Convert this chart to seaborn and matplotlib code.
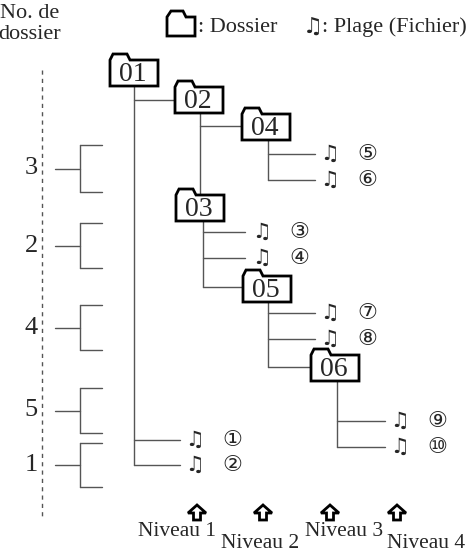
import matplotlib
matplotlib.use("Agg")
import matplotlib.pyplot as plt
import seaborn as sns
from matplotlib.patches import Polygon, FancyArrow

sns.set_theme(style="white")
plt.rcParams['font.family'] = ['Liberation Serif', 'DejaVu Sans', 'Noto Sans CJK JP']

# data
folder_labels = ["01", "02", "04", "03", "05", "06"]
folder_counts = ["3", "2", "4", "5", "1"]
track_labels = ["⑤", "⑥", "③", "④", "⑦", "⑧", "⑨", "⑩", "①", "②"]
level_labels = ["Niveau 1", "Niveau 2", "Niveau 3", "Niveau 4"]

W, H = 467, 551
fig = plt.figure(figsize=(W/100, H/100), dpi=100)
ax = fig.add_axes([0, 0, 1, 1])
ax.set_xlim(0, W); ax.set_ylim(H, 0); ax.axis('off')
LW = 1.0; GC = '#555555'

def folder(x, y, label, w=48, h=25):
    pts = [(x, y+h), (x, y-1), (x+3, y-7), (x+17, y-7), (x+20, y-1), (x+w, y-1), (x+w, y+h)]
    ax.add_patch(Polygon(pts, closed=True, fill=True, fc='white', ec='black', lw=2, zorder=3))
    ax.text(x+w/2-1, y+h/2+1, label, ha='center', va='center', fontsize=20, zorder=4)

def line(xs, ys):
    ax.plot(xs, ys, color=GC, lw=LW, zorder=1)

def track(x, y, lab):
    ax.text(x, y, "♫", ha='center', va='center', fontsize=15, fontweight='bold',
            family=['DejaVu Sans'])
    ax.text(x+37, y, lab, ha='center', va='center', fontsize=16, family=['DejaVu Sans', 'Noto Sans CJK JP'])

# tree lines
line([134, 134], [85, 465]); line([134, 175], [100, 100])
line([200, 200], [113, 205]); line([200, 242], [126, 126])
line([268, 268], [139, 180]); line([268, 315], [154, 154]); line([268, 315], [180, 180])
line([203, 203], [220, 287]); line([203, 245], [232, 232]); line([203, 245], [258, 258]); line([203, 245], [287, 287])
line([268, 268], [300, 367]); line([268, 315], [313, 313]); line([268, 315], [339, 339]); line([268, 315], [367, 367])
line([337, 337], [380, 447]); line([337, 385], [421, 421]); line([337, 385], [447, 447])
line([134, 180], [440, 440]); line([134, 180], [465, 465])

pos = [(110, 61), (175, 88), (242, 115), (176, 196), (243, 277), (311, 356)]
for (x, y), lab in zip(pos, folder_labels):
    folder(x, y, lab)

tpos = [(330, 154), (330, 180), (262, 232), (262, 258), (330, 313), (330, 339), (400, 421), (400, 447), (195, 440), (195, 465)]
for (x, y), lab in zip(tpos, track_labels):
    track(x, y, lab)

# left scale
ax.text(30, 24, "No. de\ndossier", ha='center', va='center', fontsize=16, linespacing=1.15)
ax.plot([42, 42], [70, 520], color=GC, lw=1, ls=(0, (3, 3)))
bpos = [(145, 192), (223, 268), (305, 350), (388, 433), (443, 487)]
for (y0, y1), lab in zip(bpos, folder_counts):
    ym = (y0+y1)/2
    ax.text(38, ym, lab, ha='right', va='center', fontsize=19, bbox=dict(fc='white', ec='none', pad=1))
    ax.plot([55, 80], [ym, ym], color=GC, lw=LW)
    ax.plot([80, 80], [y0, y1], color=GC, lw=LW)
    ax.plot([80, 102], [y0, y0], color=GC, lw=LW)
    ax.plot([80, 102], [y1, y1], color=GC, lw=LW)

# legend
ax.add_patch(Polygon([(167, 36), (167, 17), (171, 11), (183, 11), (186, 17), (195, 17), (195, 36)],
                     closed=True, fill=False, ec='black', lw=2))
ax.text(198, 27, ": Dossier", ha='left', va='center', fontsize=16)
ax.text(313, 27, "♫", ha='center', va='center', fontsize=16, fontweight='bold', family=['DejaVu Sans'])
ax.text(322, 27, ": Plage (Fichier)", ha='left', va='center', fontsize=16)

# levels
apos = [197, 263, 330, 397]
lpos = [(177, 532), (260, 543), (344, 532), (426, 543)]
for ax_x in apos:
    ax.add_patch(FancyArrow(ax_x, 520, 0, -15, width=7, head_width=18, head_length=8,
                            length_includes_head=True, fc='white', ec='black', lw=2))
for (x, y), lab in zip(lpos, level_labels):
    ax.text(x, y, lab, ha='center', va='center', fontsize=15.5)

fig.savefig("out.png", dpi=100)
